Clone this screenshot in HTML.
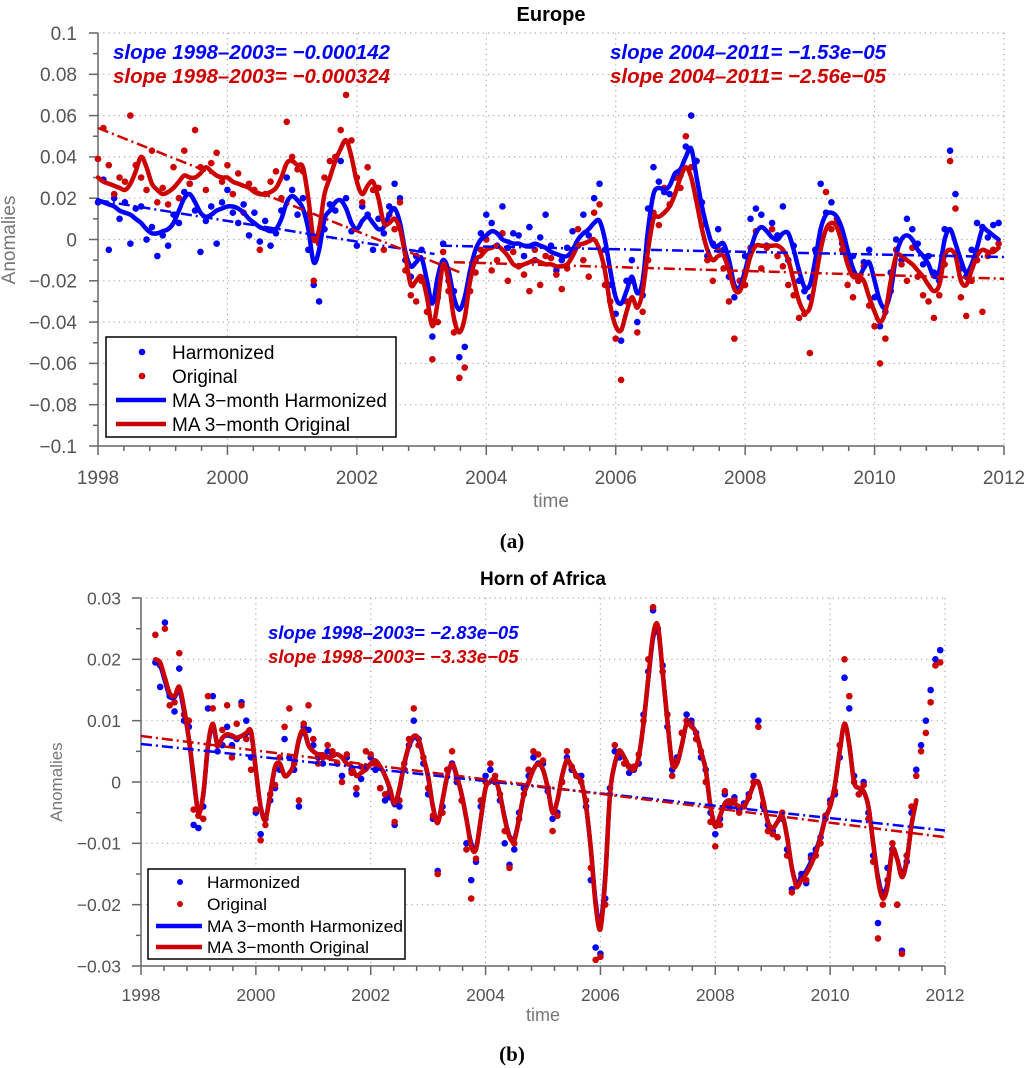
<!DOCTYPE html>
<html><head><meta charset="utf-8"><style>
html,body{margin:0;padding:0;background:#fff;}
svg{display:block;font-family:"Liberation Sans",sans-serif;}
.tl{fill:#555;}
.sl{font-weight:bold;font-style:italic;}
</style></head><body>
<svg id="fig" width="1024" height="1068" viewBox="0 0 1024 1068">
<g id="chartA"></g>
<g id="chartB"></g>
</svg>
<script>
// ===== Europe (panel a), values in units of 0.001, monthly from Jan 1998 =====
const euMaHarm = [19,18,17,16,14,13,12,10,8,5,3,3, 4,5,8,14,20,22,18,13,11,12,14,15, 16,16,15,13,10,8,6,5,4,5,10,18, 21,19,15,5,-11,-5,10,14,18,19,15,8, 5,9,11,8,5,6,12,15,8,-6,-13,-11, -9,-20,-31,-18,-10,-15,-28,-34,-28,-15,-5,0, 2,4,3,0,-1,-2,-2,-3,-3,-2,-3,-4, -6,-7,-8,-8,-5,0,3,5,8,9,0,-15, -28,-31,-25,-18,-26,-20,5,22,25,24,26,32, 34,40,44,30,16,5,-3,-3,-2,-10,-22,-23, -15,-5,3,6,4,1,0,3,3,-5,-15,-23, -22,-10,5,12,13,11,5,-5,-14,-18,-14,-11, -20,-30,-33,-25,-8,0,2,0,-5,-8,-12,-18, -15,0,5,-2,-10,-16,-12,-4,5,4,2,0];
const euMaOrig = [30,28,27,26,25,24,27,33,40,35,27,24, 22,23,25,28,31,30,30,32,35,33,31,30, 30,28,27,26,25,23,22,22,23,25,30,37, 38,36,35,20,0,5,22,30,38,44,48,40, 28,22,26,28,20,8,8,10,5,-8,-22,-20, -18,-28,-42,-30,-12,-20,-38,-45,-38,-20,-10,-8, -5,-4,-3,-5,-8,-12,-13,-12,-11,-10,-11,-12, -12,-13,-13,-12,-8,-3,-2,-1,0,-5,-15,-32, -42,-44,-35,-28,-33,-25,-5,10,11,13,16,22, 30,35,30,18,5,-5,-10,-8,-8,-15,-24,-25, -18,-8,-3,-3,-3,-3,-3,-5,-10,-20,-30,-35, -33,-20,-5,5,8,6,-2,-12,-18,-18,-20,-28, -35,-40,-35,-20,-8,-8,-10,-12,-15,-18,-22,-25, -22,-8,-5,-8,-20,-22,-15,-8,-5,-6,-6,-4];
const euPtsHarm = [18,29,-5,20,10,18,-2,15,16,0,6,-8, 2,-3,12,8,23,27,14,-6,9,16,-2,18, 24,13,8,17,2,13,-1,9,-3,3,14,30, 24,12,20,-5,-22,-30,5,17,14,38,20,4, -3,16,12,-5,10,3,16,27,20,-10,-18,-8, -5,-22,-47,-28,-2,-20,-25,-57,-52,-18,-10,3, 12,8,-3,16,-4,3,2,-8,6,-10,1,12, -3,-15,-10,-4,4,-3,12,2,20,27,-5,-22, -36,-49,-20,-10,-40,-27,15,35,28,23,22,30, 31,45,60,38,18,-8,-2,5,-5,-18,-28,-20, -8,10,15,12,-3,8,2,16,-10,-3,-20,-25, -28,-5,27,13,18,8,-2,-10,-8,-20,-11,-5, -28,-42,-35,-16,0,-10,10,5,-2,-12,-8,-16, -20,5,43,22,-14,-18,-5,8,6,1,7,8];
const euPtsOrig = [39,54,36,22,30,28,60,36,30,24,43,18, 25,17,35,20,43,27,53,35,24,37,42,28, 36,22,32,13,27,24,-5,22,28,33,20,57, 40,34,33,12,-20,-2,30,38,40,53,70,48, 30,18,35,24,25,-5,12,5,18,-15,-27,-30, -20,-35,-58,-40,-6,-25,-45,-67,-62,-25,-16,-5, 0,-15,-10,3,-20,-6,-13,-17,-25,-5,-22,-8, -9,-17,-24,-14,-5,5,-10,-18,13,17,-22,-30, -48,-68,-30,-20,-45,-35,-10,13,7,25,17,30, 25,50,35,20,7,-10,-20,-5,-14,-30,-48,-20, -22,-4,4,-14,-4,5,-8,-13,-22,-27,-38,-36, -55,-14,-2,23,5,10,-5,-22,-28,-20,-13,-32, -42,-60,-48,-25,-5,-12,-20,-4,-18,-27,-30,-38, -27,-12,38,15,-28,-37,-20,-10,-35,-8,-5,-2];
const euTrendHarmA = [[1998,19],[2003.2,-7]];
const euTrendOrigA = [[1998,54],[2003.6,-16]];
const euTrendHarmB = [[2003.3,-3],[2012,-8.5]];
const euTrendOrigB = [[2003.5,-11],[2012,-19]];
const euYTicks = ["0.1","0.08","0.06","0.04","0.02","0","−0.02","−0.04","−0.06","−0.08","−0.1"];
const xTickLabels = ["1998","2000","2002","2004","2006","2008","2010","2012"];

// ===== Horn of Africa (panel b), values in units of 0.0001, monthly from Apr 1998 =====
const hoaMaHarm = [195,190,165,140,138,150,115,70,5, -48,-22,58,92,60,72,76,74,72,75,78,80, 18,-40,-60,-20,22,30,10,15,30,68,82,60, 50,45,45,40,42,45,40,30,25,10,15,20, 30,35,25,10,-12,-38,-12,28,58,72,68,40, 8,-40,-65,-30,10,28,8,-20,-60,-100,-108,-60, -10,0,5,-20,-58,-88,-92,-60,-20,0,20,30, 20,-10,-50,-30,10,34,25,10,0,-40,-110,-195, -232,-155,-20,30,50,40,25,20,40,95,168,235, 250,180,100,30,30,60,95,92,80,50,20,-40, -70,-55,-35,-30,-35,-40,-40,-25,-5,0,-30,-65, -75,-65,-55,-90,-140,-165,-155,-145,-130,-112,-88,-58, -40,-5,50,95,60,0,-10,-15,-40,-100,-155,-182, -165,-110,-125,-150,-128,-70,-30];
const hoaMaOrig = [200,195,170,145,140,155,120,70,10, -50,-20,60,95,60,72,78,76,72,75,80,82, 20,-40,-62,-20,25,30,10,15,30,70,85,60, 50,45,45,40,42,45,40,30,25,10,15,20, 30,35,25,10,-10,-35,-10,30,60,75,70,40, 10,-40,-67,-30,10,30,10,-20,-60,-105,-110,-60, -10,0,5,-20,-60,-90,-95,-60,-20,0,20,30, 20,-10,-50,-30,10,36,25,10,0,-40,-110,-200, -240,-160,-20,30,50,40,25,20,40,95,170,240, 255,180,100,30,30,60,95,90,80,50,20,-40, -73,-55,-35,-30,-35,-40,-40,-25,-5,0,-30,-65, -75,-65,-55,-90,-140,-170,-160,-150,-135,-116,-90,-60, -40,-5,50,95,60,0,-10,-15,-40,-100,-160,-190, -170,-110,-125,-155,-130,-70,-30];
const hoaPtsHarm = [195,155,260,140,115,185,100,90,-70, -75,-40,120,140,50,60,90,60,70,130,100,40, -50,-85,-60,-30,-10,20,70,40,20,-40,90,85, 60,40,30,50,45,30,10,40,20,-20,5,25, 40,20,-10,-30,-25,-70,-40,20,60,100,70,30, -20,-60,-145,-40,20,30,0,-30,-100,-160,-130,-40, 10,20,0,-30,-100,-135,-110,-50,-10,10,40,30, 30,-15,-60,-50,0,40,20,10,10,-40,-160,-270, -280,-190,-10,50,40,30,15,20,30,110,180,280, 250,190,90,20,40,80,110,100,80,40,20,-50, -85,-60,-20,-40,-25,-45,-35,-20,10,100,-40,-70, -80,-90,-60,-110,-175,-165,-150,-165,-120,-110,-90,-60, -30,-20,40,170,120,10,-20,0,-50,-120,-230,-180, -140,-110,-200,-275,-130,-50,20,60,100,150,200,215];
const hoaPtsOrig = [240,190,250,125,130,210,110,100,-45, -55,-60,140,120,60,85,125,40,95,125,70,20, -45,-95,-70,-20,-5,40,90,120,30,-30,95,125, 70,30,40,60,50,30,0,45,15,-10,25,50, 45,30,-10,-20,-15,-65,-30,30,70,120,60,40, -10,-55,-150,-50,20,50,5,-30,-110,-190,-125,-30, 0,30,10,-20,-80,-140,-100,-60,-20,20,50,45, 35,-10,-80,-55,0,50,25,10,0,-30,-140,-290, -285,-200,-20,60,50,30,25,25,45,100,200,285, 245,180,110,10,35,80,100,95,70,50,0,-65, -105,-70,-15,-35,-30,-50,-40,-25,0,90,-35,-80, -85,-90,-50,-120,-180,-170,-155,-160,-125,-120,-100,-55, -35,-15,60,200,140,0,-20,-5,-60,-130,-255,-200, -160,-100,-200,-280,-120,-40,10,50,80,130,190,195];
const hoaTrendHarm = [[1998,62],[2012,-79]];
const hoaTrendOrig = [[1998,75],[2012,-90]];
const hoaYTicks = ["0.03","0.02","0.01","0","−0.01","−0.02","−0.03"];

const NS = "http://www.w3.org/2000/svg";
const BLUE = "#0000ff", RED = "#cc0000";
function mk(tag, attrs, parent){ const e=document.createElementNS(NS,tag); for(const k in attrs) e.setAttribute(k,attrs[k]); parent.appendChild(e); return e; }

function smoothPath(pts){
  let d = "M"+pts[0][0].toFixed(1)+","+pts[0][1].toFixed(1);
  for(let i=0;i<pts.length-1;i++){
    const p0=pts[Math.max(0,i-1)], p1=pts[i], p2=pts[i+1], p3=pts[Math.min(pts.length-1,i+2)];
    const c1x=p1[0]+(p2[0]-p0[0])/6, c1y=p1[1]+(p2[1]-p0[1])/6;
    const c2x=p2[0]-(p3[0]-p1[0])/6, c2y=p2[1]-(p3[1]-p1[1])/6;
    d += " C"+c1x.toFixed(1)+","+c1y.toFixed(1)+" "+c2x.toFixed(1)+","+c2y.toFixed(1)+" "+p2[0].toFixed(1)+","+p2[1].toFixed(1);
  }
  return d;
}

function drawChart(g, c){
  const X = t => c.x0 + (t-1998)/(2012-1998)*(c.x1-c.x0);
  const Y = v => c.yT + (c.vMax - v*c.unit)/(c.vMax-c.vMin)*(c.yB-c.yT);
  const grid = mk("g",{},g);
  
  
  for(let i=1;i<=7;i++){ const x=X(1998+2*i); mk("line",{x1:x,x2:x,y1:c.yT,y2:c.yB,stroke:"#aaa","stroke-width":1.2,"stroke-dasharray":"1.2,4"},grid); }
  c.yLabels.forEach((s,i)=>{ if(i===c.yLabels.length-1) return; const y=c.yT+i*(c.yB-c.yT)/(c.yLabels.length-1); mk("line",{x1:c.x0,x2:c.x1,y1:y,y2:y,stroke:"#aaa","stroke-width":1.2,"stroke-dasharray":"1.2,4"},grid); });
  const ax = mk("g",{stroke:"#666","stroke-width":1.5,fill:"none"},g);
  
  
  mk("line",{x1:c.x0,x2:c.x0,y1:c.yT,y2:c.yB},ax);
  mk("line",{x1:c.x0,x2:c.x1,y1:c.yB,y2:c.yB},ax);
  const n=c.yLabels.length-1;
  for(let i=0;i<=n;i++){ const y=c.yT+i*(c.yB-c.yT)/n; mk("line",{x1:c.x0-9,x2:c.x0,y1:y,y2:y},ax);
    if(i<n){ const ym=y+(c.yB-c.yT)/n/2; mk("line",{x1:c.x0-5,x2:c.x0,y1:ym,y2:ym},ax);} }
  for(let k=0;k<=35;k++){ const x=X(1998+k*0.4); const maj=(k%5===0); mk("line",{x1:x,x2:x,y1:c.yB,y2:c.yB+(maj?9:5)},ax); }
  c.yLabels.forEach((s,i)=>{ const y=c.yT+i*(c.yB-c.yT)/n;
    const t=mk("text",{x:c.x0-c.yLabOff,y:y+c.fs*0.36,"text-anchor":"end",class:"tl","font-size":c.fs},g); t.textContent=s;
    
     });
  xTickLabels.forEach((s,i)=>{ const t=mk("text",{x:X(1998+2*i),y:c.yB+c.xLabOff,"text-anchor":"middle",class:"tl","font-size":c.fs},g); t.textContent=s;
    
     });
  [[c.ptsH,BLUE,'harmonized-points'],[c.ptsO,RED,'original-points']].forEach(([arr,col,nm])=>{
    const sg=mk("g",{fill:col},g);
    
    
    arr.forEach((v,i)=>{ const cc=mk("circle",{cx:X(c.start+i/12),cy:Y(v),r:3.3},sg);
      
       });
  });
  [[c.maH,BLUE,'ma-harmonized-line'],[c.maO,RED,'ma-original-line']].forEach(([arr,col,nm])=>{
    const pts=arr.map((v,i)=>[X(c.start+i/12),Y(v)]);
    const p=mk("path",{d:smoothPath(pts),fill:"none",stroke:col,"stroke-width":4.5,"stroke-linejoin":"round","stroke-linecap":"round"},g);
    
    
  });
  c.trends.forEach(([tr,col])=>{
    const p=mk("line",{x1:X(tr[0][0]),y1:Y(tr[0][1]),x2:X(tr[1][0]),y2:Y(tr[1][1]),stroke:col,"stroke-width":2.5,"stroke-dasharray":"11,4,2,4"},g);
    
    
  });
}

drawChart(document.getElementById("chartA"),{x0:98,x1:1004,yT:33,yB:446,vMax:100,vMin:-100,unit:1,start:1998,fs:19,yLabOff:21,xLabOff:38,
  yLabels:euYTicks,maH:euMaHarm,maO:euMaOrig,ptsH:euPtsHarm,ptsO:euPtsOrig,
  trends:[[euTrendHarmA,BLUE],[euTrendOrigA,RED],[euTrendHarmB,BLUE],[euTrendOrigB,RED]]});
drawChart(document.getElementById("chartB"),{x0:141,x1:945,yT:598,yB:966,vMax:300,vMin:-300,unit:1,start:1998.25,fs:17.5,yLabOff:20,xLabOff:35,
  yLabels:hoaYTicks,maH:hoaMaHarm,maO:hoaMaOrig,ptsH:hoaPtsHarm,ptsO:hoaPtsOrig,
  trends:[[hoaTrendHarm,BLUE],[hoaTrendOrig,RED]]});
</script>
<script>
(function(){
const svg=document.getElementById("fig");
svg.insertAdjacentHTML("beforeend", `
<text x="551" y="21" text-anchor="middle" font-weight="bold" font-size="20" fill="#000">Europe</text>
<text transform="translate(15,240) rotate(-90)" text-anchor="middle" font-size="19" fill="#777">Anomalies</text>
<text x="551" y="507" text-anchor="middle" font-size="19" fill="#777">time</text>
<text x="512" y="548" text-anchor="middle" font-family="Liberation Serif,serif" font-weight="bold" font-size="21">(a)</text>
<text x="113" y="59" class="sl" font-size="20.5" fill="#0000ff">slope 1998–2003= −0.000142</text>
<text x="113" y="83" class="sl" font-size="20.5" fill="#cc0000">slope 1998–2003= −0.000324</text>
<text x="610" y="59" class="sl" font-size="20.5" fill="#0000ff">slope 2004–2011= −1.53e−05</text>
<text x="610" y="83" class="sl" font-size="20.5" fill="#cc0000">slope 2004–2011= −2.56e−05</text>
<g>
<rect x="106" y="337" width="290" height="100" fill="#fff" stroke="#000" stroke-width="1.5"/>
<circle cx="142" cy="352" r="3.3" fill="#0000ff"/><text x="172" y="359" font-size="19">Harmonized</text>
<circle cx="142" cy="376" r="3.3" fill="#cc0000"/><text x="172" y="383" font-size="19">Original</text>
<line x1="116" x2="166" y1="400" y2="400" stroke="#0000ff" stroke-width="4.5"/><text x="172" y="407" font-size="19">MA 3−month Harmonized</text>
<line x1="116" x2="166" y1="424" y2="424" stroke="#cc0000" stroke-width="4.5"/><text x="172" y="431" font-size="19">MA 3−month Original</text>
</g>
<text x="543" y="585" text-anchor="middle" font-weight="bold" font-size="19" fill="#000">Horn of Africa</text>
<text transform="translate(62,782) rotate(-90)" text-anchor="middle" font-size="17" fill="#777">Anomalies</text>
<text x="543" y="1021" text-anchor="middle" font-size="18" fill="#777">time</text>
<text x="512" y="1061" text-anchor="middle" font-family="Liberation Serif,serif" font-weight="bold" font-size="21">(b)</text>
<text x="268" y="639" class="sl" font-size="18.5" fill="#0000ff">slope 1998–2003= −2.83e−05</text>
<text x="268" y="663" class="sl" font-size="18.5" fill="#cc0000">slope 1998–2003= −3.33e−05</text>
<g>
<rect x="148" y="869" width="257" height="90" fill="#fff" stroke="#000" stroke-width="1.5"/>
<circle cx="180" cy="882" r="3" fill="#0000ff"/><text x="207" y="888" font-size="17" textLength="93" lengthAdjust="spacingAndGlyphs">Harmonized</text>
<circle cx="180" cy="904" r="3" fill="#cc0000"/><text x="207" y="910" font-size="17" textLength="60" lengthAdjust="spacingAndGlyphs">Original</text>
<line x1="156" x2="202" y1="926" y2="926" stroke="#0000ff" stroke-width="4.5"/><text x="207" y="932" font-size="17" textLength="196" lengthAdjust="spacingAndGlyphs">MA 3−month Harmonized</text>
<line x1="156" x2="202" y1="947" y2="947" stroke="#cc0000" stroke-width="4.5"/><text x="207" y="953" font-size="17" textLength="162" lengthAdjust="spacingAndGlyphs">MA 3−month Original</text>
</g>`);
})();
</script>
</body></html>
